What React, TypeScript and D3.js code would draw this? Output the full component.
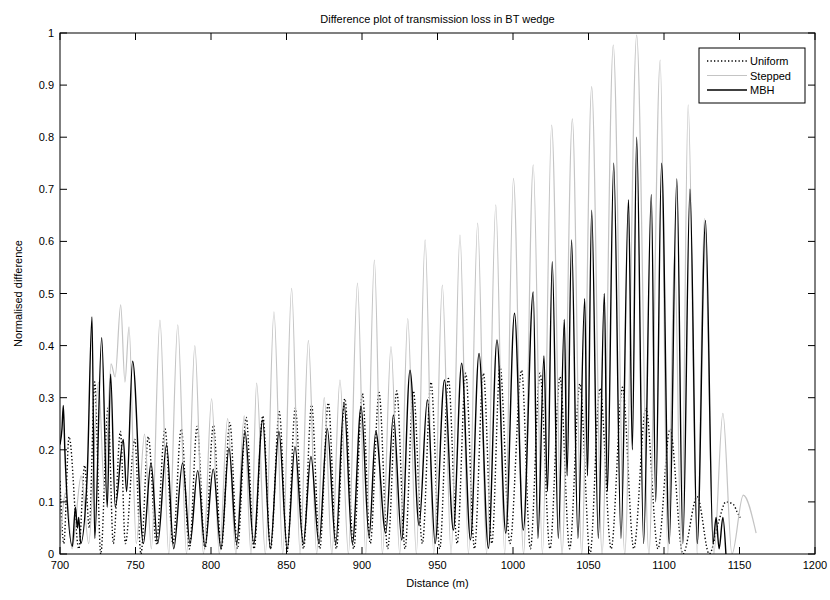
import React from 'react';
import * as d3 from 'd3';

const titleText = 'Difference plot of transmission loss in BT wedge';
const xLabelText = 'Distance (m)';
const yLabelText = 'Normalised difference';
const xTicks = [700, 750, 800, 850, 900, 950, 1000, 1050, 1100, 1150, 1200];
const yTicks = [0, 0.1, 0.2, 0.3, 0.4, 0.5, 0.6, 0.7, 0.8, 0.9, 1];
const seriesNames = ['Uniform', 'Stepped', 'MBH'];

const uniform: [number, number][] = [
  [700, 0.14], [702.5, 0.02], [706, 0.225], [712.5, 0.01], [716.3, 0.17], [719.4, 0.05], [723, 0.33], [727, 0.0],
  [731.8, 0.28], [735.3, 0.02], [740, 0.235], [743.3, 0.02], [749.5, 0.22], [753.6, 0.0], [758.5, 0.225], [763.8, 0.02],
  [769.5, 0.24], [774.8, 0.02], [780.3, 0.24], [785.7, 0.01], [790.8, 0.245], [796, 0.01], [801.6, 0.247], [806.8, 0.01],
  [812.5, 0.252], [817.5, 0.01], [823.3, 0.262], [828.5, 0.01], [834.3, 0.265], [839.5, 0.01], [845.2, 0.273], [850.5, 0.005],
  [855.8, 0.28], [861.3, 0.01], [866.6, 0.286], [872, 0.01], [877.7, 0.29], [883, 0.01], [888.6, 0.298], [894.5, 0.01],
  [900.3, 0.308], [905.5, 0.02], [911.3, 0.31], [917, 0.01], [923, 0.313], [928.5, 0.01], [934, 0.313], [940, 0.02],
  [945.7, 0.33], [951.5, 0.01], [957.2, 0.337], [963, 0.02], [968.7, 0.347], [974.5, 0.01], [980.4, 0.347], [986, 0.02],
  [991.4, 0.36], [998, 0.02], [1005.7, 0.353], [1011.5, 0.01], [1017.9, 0.347], [1024.5, 0.01], [1031.1, 0.34], [1037.5, 0.01],
  [1044.3, 0.327], [1051, 0.0], [1057.6, 0.318], [1065, 0.01], [1072.5, 0.32], [1080, 0.01], [1088, 0.28], [1096, 0.01],
  [1104, 0.24], [1112.5, 0.0], [1122, 0.11], [1130, 0.0], [1136, 0.06], [1141, 0.1], [1146, 0.095], [1148.5, 0.08], [1150.5, 0.07],
];

const stepped: [number, number][] = [
  [700, 0.02], [704, 0.12], [708, 0.01], [714, 0.15], [719, 0.02], [725.5, 0.33], [729.5, 0.12], [733.8, 0.365],
  [736.5, 0.34], [740.2, 0.478], [743, 0.33], [745.7, 0.436], [750.5, 0.02], [756, 0.23], [760.5, 0.01], [766.2, 0.449],
  [772, 0.0], [778, 0.44], [783.8, 0.0], [789.3, 0.4], [795, 0.0], [800.4, 0.298], [805.5, 0.0], [811, 0.26],
  [816.5, 0.0], [822, 0.265], [826.5, 0.0], [830.2, 0.328], [836, 0.0], [841.7, 0.465], [847.5, 0.0], [853.4, 0.51],
  [859, 0.0], [864.5, 0.41], [870, 0.0], [875, 0.3], [880, 0.0], [885.4, 0.334], [891, 0.0], [897, 0.52],
  [902.5, 0.0], [908.2, 0.564], [913.5, 0.0], [919.2, 0.398], [925, 0.0], [930.3, 0.452], [936, 0.0], [941.8, 0.603],
  [947.5, 0.0], [953.2, 0.516], [959, 0.0], [964.9, 0.612], [970.5, 0.0], [976.6, 0.635], [982.5, 0.0], [988.6, 0.67],
  [994.5, 0.0], [1000.3, 0.721], [1007, 0.0], [1013.4, 0.747], [1019.5, 0.0], [1025.6, 0.823], [1032.5, 0.0], [1039.3, 0.835],
  [1045.5, 0.0], [1052.1, 0.897], [1059, 0.0], [1066.4, 0.977], [1074, 0.0], [1081.9, 0.996], [1090, 0.0], [1097.5, 0.948],
  [1102.5, 0.0], [1107, 0.58], [1111.5, 0.0], [1116, 0.862], [1122, 0.0], [1126.7, 0.644], [1133, 0.0], [1139, 0.27],
  [1145, 0.0], [1152.5, 0.113], [1161, 0.04],
];

const mbh: [number, number][] = [
  [700, 0.21], [701.3, 0.24], [702.2, 0.285], [703.2, 0.2], [708.2, 0.015], [710.2, 0.09], [711.5, 0.05], [712.4, 0.07],
  [713.7, 0.02], [718, 0.15], [721.2, 0.455], [723, 0.03], [727.6, 0.415], [731.3, 0.09], [733.5, 0.345], [736.6, 0.09],
  [741.9, 0.22], [744.1, 0.12], [748.1, 0.37], [755.2, 0.02], [760.3, 0.175], [764.7, 0.02], [770.6, 0.21], [775.3, 0.01],
  [781.2, 0.175], [786.1, 0.02], [791.2, 0.16], [796, 0.014], [801.5, 0.163], [806.6, 0.01], [811.9, 0.203], [817, 0.02],
  [822.5, 0.235], [828.3, 0.02], [834.2, 0.257], [839.3, 0.01], [845, 0.235], [850.5, 0.01], [855.6, 0.206], [861.1, 0.02],
  [866.2, 0.187], [871.5, 0.02], [877, 0.241], [882.6, 0.02], [888.1, 0.289], [893.6, 0.02], [899.4, 0.283], [904.7, 0.033],
  [909.1, 0.235], [915.7, 0.04], [920.8, 0.267], [926.3, 0.027], [931.8, 0.353], [937.8, 0.055], [943.3, 0.296], [948.4, 0.02],
  [954.6, 0.334], [960.5, 0.046], [966, 0.366], [971.8, 0.027], [977.5, 0.385], [983.7, 0.011], [989.4, 0.411], [995.2, 0.04],
  [1001, 0.462], [1006.8, 0.046], [1013.4, 0.503], [1016.5, 0.03], [1020.5, 0.38], [1022.8, 0.12], [1026, 0.561], [1030, 0.03],
  [1034, 0.45], [1035.8, 0.15], [1038.8, 0.603], [1043, 0.03], [1047.5, 0.49], [1049.3, 0.15], [1052.1, 0.66], [1056.5, 0.03],
  [1060.5, 0.5], [1062.5, 0.12], [1066.7, 0.75], [1071.5, 0.03], [1076.5, 0.68], [1079, 0.2], [1081.9, 0.8], [1086.5, 0.02],
  [1091.6, 0.69], [1094.5, 0.1], [1098.4, 0.75], [1103.5, 0.02], [1108.5, 0.72], [1112.5, 0.02], [1117.2, 0.7], [1122, 0.02],
  [1127.5, 0.64], [1132.5, 0.02], [1134.5, 0.07], [1136.5, 0.01], [1139, 0.07], [1141, 0.0],
];

const W = 830;
const H = 600;
const PL = 60;
const PR = 815;
const PT = 33;
const PB = 554;
const FONT = "'Liberation Sans', Arial, sans-serif";

export default function App() {
  const x = d3.scaleLinear().domain([700, 1200]).range([PL, PR]);
  const y = d3.scaleLinear().domain([0, 1]).range([PB, PT]);
  const line = d3
    .line<[number, number]>()
    .x((d) => x(d[0]))
    .y((d) => y(d[1]))
    .curve(d3.curveMonotoneX);
  const tl = 7;
  const styles = [
    { stroke: '#000', width: 1.4, dash: '1.3 2.2' },
    { stroke: '#c4c4c4', width: 1.2, dash: undefined as string | undefined },
    { stroke: '#000', width: 1.4, dash: undefined as string | undefined },
  ];
  const data = [uniform, stepped, mbh];
  const lgX = 699;
  const lgY = 48;
  const lgW = 106;
  const lgH = 55;
  return (
    <svg width={W} height={H} style={{ position: 'absolute', left: 0, top: 0, background: '#fff' }} fontFamily={FONT}>
      <rect x={0} y={0} width={W} height={H} fill="#fff" />
      <defs>
        <clipPath id="plotclip">
          <rect x={PL} y={PT} width={PR - PL} height={PB - PT} />
        </clipPath>
      </defs>
      <g clipPath="url(#plotclip)">
        {data.map((d, i) => (
          <path
            key={i}
            d={line(d) || ''}
            fill="none"
            stroke={styles[i].stroke}
            strokeWidth={styles[i].width}
            strokeDasharray={styles[i].dash}
          />
        ))}
      </g>
      <rect x={PL} y={PT} width={PR - PL} height={PB - PT} fill="none" stroke="#000" strokeWidth={1} />
      {xTicks.map((t) => (
        <g key={'x' + t}>
          <line x1={x(t)} x2={x(t)} y1={PB} y2={PB - tl} stroke="#000" />
          <line x1={x(t)} x2={x(t)} y1={PT} y2={PT + tl} stroke="#000" />
          <text x={x(t)} y={PB + 15} textAnchor="middle" fontSize={11}>
            {t}
          </text>
        </g>
      ))}
      {yTicks.map((t) => (
        <g key={'y' + t}>
          <line x1={PL} x2={PL + tl} y1={y(t)} y2={y(t)} stroke="#000" />
          <line x1={PR} x2={PR - tl} y1={y(t)} y2={y(t)} stroke="#000" />
          <text x={PL - 6} y={y(t) + 4} textAnchor="end" fontSize={11}>
            {String(t)}
          </text>
        </g>
      ))}
      <text x={(PL + PR) / 2} y={PT - 10} textAnchor="middle" fontSize={11}>
        {titleText}
      </text>
      <text x={(PL + PR) / 2} y={PB + 33} textAnchor="middle" fontSize={11}>
        {xLabelText}
      </text>
      <text transform={`translate(${PL - 38},${(PT + PB) / 2}) rotate(-90)`} textAnchor="middle" fontSize={11}>
        {yLabelText}
      </text>
      <g>
        <rect x={lgX} y={lgY} width={lgW} height={lgH} fill="#fff" stroke="#000" strokeWidth={1} />
        {seriesNames.map((n, i) => (
          <g key={n}>
            <line
              x1={lgX + 8}
              x2={lgX + 48}
              y1={lgY + 13 + i * 14.5}
              y2={lgY + 13 + i * 14.5}
              stroke={styles[i].stroke}
              strokeWidth={styles[i].width}
              strokeDasharray={styles[i].dash}
            />
            <text x={lgX + 51} y={lgY + 17 + i * 14.5} fontSize={11}>
              {n}
            </text>
          </g>
        ))}
      </g>
    </svg>
  );
}
